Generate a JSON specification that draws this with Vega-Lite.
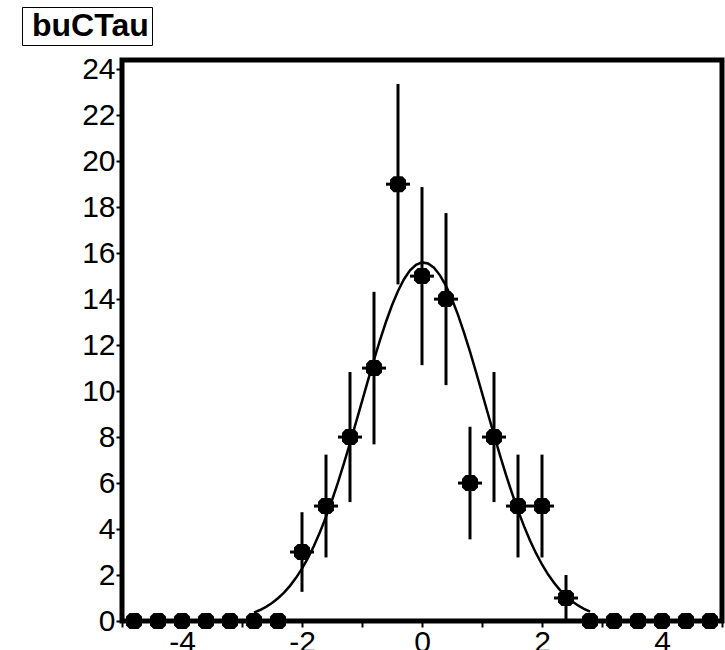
{
  "$schema": "https://vega.github.io/schema/vega-lite/v6.json",
  "autosize": {"type": "none"},
  "padding": {"left": 122, "top": 60, "right": 3, "bottom": 29},
  "width": 600,
  "height": 561,
  "background": "white",
  "config": {
    "view": {"stroke": "black", "strokeWidth": 5},
    "point": {"size": 256},
    "axis": {
      "domain": false,
      "grid": false,
      "tickColor": "black",
      "tickWidth": 2,
      "labelFont": "Liberation Sans",
      "labelFontSize": 30,
      "labelColor": "black",
      "labelOverlap": false,
      "labelBound": false,
      "labelFlush": false,
      "title": null
    }
  },
  "datasets": {
    "bins": [
      {"x": -4.8, "n": 0, "xlo": -5.0, "xhi": -4.6, "lo": 0, "hi": 0},
      {"x": -4.4, "n": 0, "xlo": -4.6, "xhi": -4.2, "lo": 0, "hi": 0},
      {"x": -4.0, "n": 0, "xlo": -4.2, "xhi": -3.8, "lo": 0, "hi": 0},
      {"x": -3.6, "n": 0, "xlo": -3.8, "xhi": -3.4, "lo": 0, "hi": 0},
      {"x": -3.2, "n": 0, "xlo": -3.4, "xhi": -3.0, "lo": 0, "hi": 0},
      {"x": -2.8, "n": 0, "xlo": -3.0, "xhi": -2.6, "lo": 0, "hi": 0},
      {"x": -2.4, "n": 0, "xlo": -2.6, "xhi": -2.2, "lo": 0, "hi": 0},
      {"x": -2.0, "n": 3, "xlo": -2.2, "xhi": -1.8, "lo": 1.268, "hi": 4.732},
      {"x": -1.6, "n": 5, "xlo": -1.8, "xhi": -1.4, "lo": 2.764, "hi": 7.236},
      {"x": -1.2, "n": 8, "xlo": -1.4, "xhi": -1.0, "lo": 5.172, "hi": 10.828},
      {"x": -0.8, "n": 11, "xlo": -1.0, "xhi": -0.6, "lo": 7.683, "hi": 14.317},
      {"x": -0.4, "n": 19, "xlo": -0.6, "xhi": -0.2, "lo": 14.641, "hi": 23.359},
      {"x": 0.0, "n": 15, "xlo": -0.2, "xhi": 0.2, "lo": 11.127, "hi": 18.873},
      {"x": 0.4, "n": 14, "xlo": 0.2, "xhi": 0.6, "lo": 10.258, "hi": 17.742},
      {"x": 0.8, "n": 6, "xlo": 0.6, "xhi": 1.0, "lo": 3.551, "hi": 8.449},
      {"x": 1.2, "n": 8, "xlo": 1.0, "xhi": 1.4, "lo": 5.172, "hi": 10.828},
      {"x": 1.6, "n": 5, "xlo": 1.4, "xhi": 1.8, "lo": 2.764, "hi": 7.236},
      {"x": 2.0, "n": 5, "xlo": 1.8, "xhi": 2.2, "lo": 2.764, "hi": 7.236},
      {"x": 2.4, "n": 1, "xlo": 2.2, "xhi": 2.6, "lo": 0, "hi": 2},
      {"x": 2.8, "n": 0, "xlo": 2.6, "xhi": 3.0, "lo": 0, "hi": 0},
      {"x": 3.2, "n": 0, "xlo": 3.0, "xhi": 3.4, "lo": 0, "hi": 0},
      {"x": 3.6, "n": 0, "xlo": 3.4, "xhi": 3.8, "lo": 0, "hi": 0},
      {"x": 4.0, "n": 0, "xlo": 3.8, "xhi": 4.2, "lo": 0, "hi": 0},
      {"x": 4.4, "n": 0, "xlo": 4.2, "xhi": 4.6, "lo": 0, "hi": 0},
      {"x": 4.8, "n": 0, "xlo": 4.6, "xhi": 5.0, "lo": 0, "hi": 0}
    ],
    "fit": [
      {"x": -2.8, "f": 0.368}, {"x": -2.7, "f": 0.478}, {"x": -2.6, "f": 0.614},
      {"x": -2.5, "f": 0.782}, {"x": -2.4, "f": 0.988}, {"x": -2.3, "f": 1.234},
      {"x": -2.2, "f": 1.529}, {"x": -2.1, "f": 1.876}, {"x": -2.0, "f": 2.280},
      {"x": -1.9, "f": 2.745}, {"x": -1.8, "f": 3.274}, {"x": -1.7, "f": 3.869},
      {"x": -1.6, "f": 4.529}, {"x": -1.5, "f": 5.251}, {"x": -1.4, "f": 6.031},
      {"x": -1.3, "f": 6.863}, {"x": -1.2, "f": 7.735}, {"x": -1.1, "f": 8.637},
      {"x": -1.0, "f": 9.554}, {"x": -0.9, "f": 10.469}, {"x": -0.8, "f": 11.363},
      {"x": -0.7, "f": 12.218}, {"x": -0.6, "f": 13.015}, {"x": -0.5, "f": 13.734},
      {"x": -0.4, "f": 14.356}, {"x": -0.3, "f": 14.865}, {"x": -0.2, "f": 15.248},
      {"x": -0.1, "f": 15.494}, {"x": 0.0, "f": 15.597}, {"x": 0.1, "f": 15.553},
      {"x": 0.2, "f": 15.364}, {"x": 0.3, "f": 15.034}, {"x": 0.4, "f": 14.574},
      {"x": 0.5, "f": 13.995}, {"x": 0.6, "f": 13.313}, {"x": 0.7, "f": 12.545},
      {"x": 0.8, "f": 11.711}, {"x": 0.9, "f": 10.830}, {"x": 1.0, "f": 9.921},
      {"x": 1.1, "f": 9.003}, {"x": 1.2, "f": 8.093}, {"x": 1.3, "f": 7.207},
      {"x": 1.4, "f": 6.358}, {"x": 1.5, "f": 5.557}, {"x": 1.6, "f": 4.810},
      {"x": 1.7, "f": 4.125}, {"x": 1.8, "f": 3.505}, {"x": 1.9, "f": 2.949},
      {"x": 2.0, "f": 2.459}, {"x": 2.1, "f": 2.030}, {"x": 2.2, "f": 1.661},
      {"x": 2.3, "f": 1.346}, {"x": 2.4, "f": 1.081}, {"x": 2.5, "f": 0.860},
      {"x": 2.6, "f": 0.677}, {"x": 2.7, "f": 0.529}, {"x": 2.8, "f": 0.409}
    ]
  },
  "layer": [
    {
      "data": {"name": "fit"},
      "mark": {"type": "line", "color": "black", "strokeWidth": 2.5},
      "encoding": {
        "x": {"field": "x", "type": "quantitative", "scale": {"domain": [-5, 5], "nice": false, "zero": false},
          "axis": {"values": [-5, -4.5, -4, -3.5, -3, -2.5, -2, -1.5, -1, -0.5, 0, 0.5, 1, 1.5, 2, 2.5, 3, 3.5, 4, 4.5, 5],
                   "tickSize": 6, "labelPadding": 0,
                   "labelExpr": "datum.value % 2 === 0 && datum.value !== 0 ? '' + datum.value : (datum.value === 0 ? '0' : '')"}},
        "y": {"field": "f", "type": "quantitative", "scale": {"domain": [0, 24.4], "nice": false},
          "axis": {"values": [0, 2, 4, 6, 8, 10, 12, 14, 16, 18, 20, 22, 24], "tickSize": 6, "labelPadding": 1}}
      }
    },
    {
      "data": {"name": "bins"},
      "mark": {"type": "rule", "color": "black", "strokeWidth": 3},
      "encoding": {
        "x": {"field": "xlo", "type": "quantitative"},
        "x2": {"field": "xhi"},
        "y": {"field": "n", "type": "quantitative"}
      }
    },
    {
      "data": {"name": "bins"},
      "mark": {"type": "rule", "color": "black", "strokeWidth": 3},
      "encoding": {
        "x": {"field": "x", "type": "quantitative"},
        "y": {"field": "lo", "type": "quantitative"},
        "y2": {"field": "hi"}
      }
    },
    {
      "data": {"name": "bins"},
      "mark": {"type": "point", "filled": true, "opacity": 1,
               "shape": "M-0.55,-1L0.55,-1L1,-0.55L1,0.55L0.55,1L-0.55,1L-1,0.55L-1,-0.55Z"},
      "encoding": {
        "x": {"field": "x", "type": "quantitative"},
        "y": {"field": "n", "type": "quantitative"},
        "color": {"datum": "buCTau", "type": "nominal", "scale": {"range": ["black"]},
          "legend": {"orient": "none", "legendX": -100, "legendY": -53, "title": null,
                     "symbolType": "square", "symbolSize": 1, "symbolStrokeWidth": 0, "symbolOpacity": 0,
                     "labelOffset": -25, "columnPadding": 0,
                     "labelFont": "Liberation Sans", "labelFontWeight": "bold", "labelFontSize": 32,
                     "labelColor": "black", "strokeColor": "black", "fillColor": "white", "padding": 3}}
      }
    }
  ]
}
